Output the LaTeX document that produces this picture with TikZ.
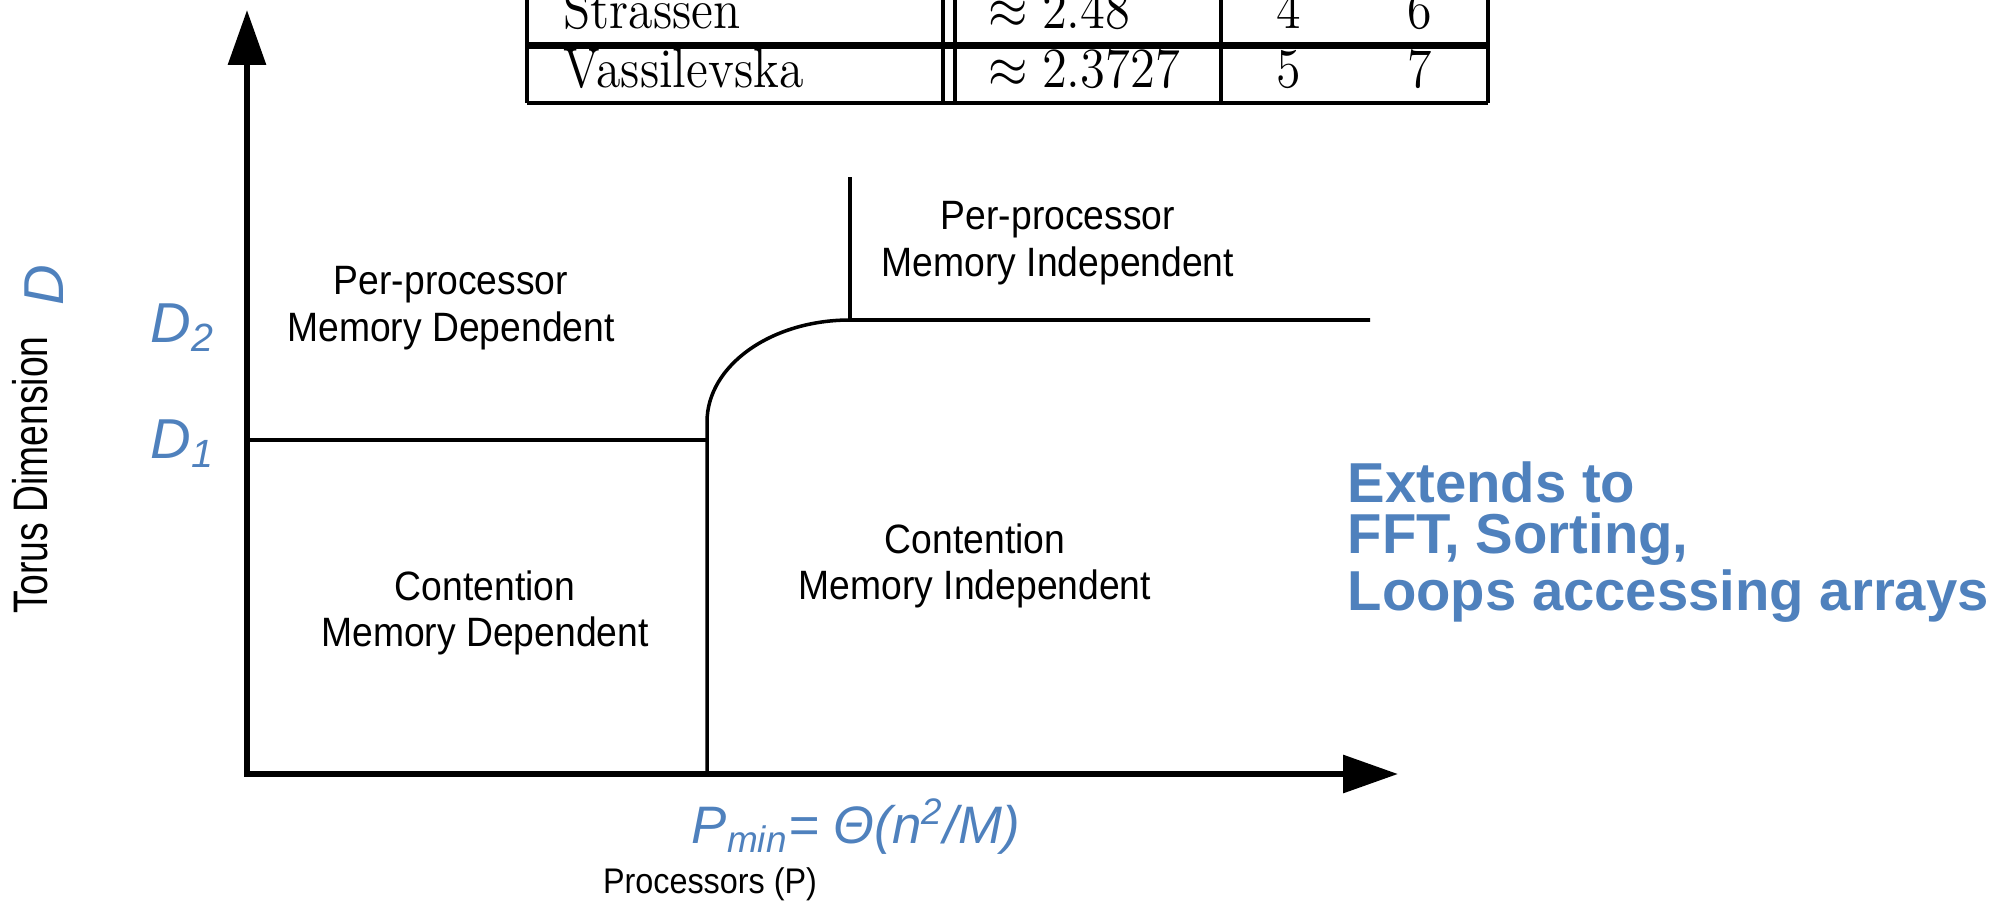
\documentclass[tikz,border=0pt]{standalone}
\usepackage{fontspec}
\setsansfont{Liberation Sans}
\usetikzlibrary{arrows.meta}
\definecolor{slideblue}{RGB}{79,129,189}

\begin{document}
\begin{tikzpicture}[x=0.01cm, y=-0.01cm, line join=miter,
  axis/.style={line width=1.75pt, {Triangle[length=15.6pt,width=10.5pt]}-{Triangle[length=15.6pt,width=10.5pt]}},
  border/.style={line width=1pt},
  rule/.style={line width=0.9pt},
  region/.style={font=\sffamily\fontsize{10.6}{12}\selectfont, align=center, inner sep=0pt},
  zone/.style={region, yscale=1.1},
  hint/.style={text=slideblue, font=\sffamily\itshape\fontsize{16}{19}\selectfont, inner sep=0pt},
  cell/.style={font=\fontsize{14.2}{17}\selectfont, inner sep=0pt, yscale=1.12}]

\useasboundingbox (0,0) rectangle (2007,903);
\clip (0,0) rectangle (2007,903);

% table, upper rows cut off
\foreach \x in {527,943,955,1221,1488}
  \draw[rule] (\x,-60) -- (\x,103);
\draw[rule] (527,43.5) -- (1488,43.5);
\draw[rule] (527,47) -- (1488,47);
\draw[line width=1.2pt] (527,103) -- (1488,103);

\node[cell, anchor=base west] (strassen) at (563,28) {Strassen};
\node[cell, anchor=base west] (strassenexp) at (988,28) {$\approx 2.48$};
\node[cell, anchor=base] (strassena) at (1289,28) {4};
\node[cell, anchor=base] (strassenb) at (1420,28) {6};
\node[cell, anchor=base west] (vassil) at (563,87) {Vassilevska};
\node[cell, anchor=base west] (vassilexp) at (988,87) {$\approx 2.3727$};
\node[cell, anchor=base] (vassila) at (1289,87) {5};
\node[cell, anchor=base] (vassilb) at (1420,87) {7};

% axes
\coordinate (origin) at (247,774);
\coordinate (ytip) at (247,10);
\coordinate (xtip) at (1398,774);
\draw[axis] (ytip) -- (origin) -- (xtip);

% region borders
\coordinate (dleft) at (247,440);
\coordinate (knee) at (707,440);
\coordinate (pmid) at (707,774);
\coordinate (bend) at (707,422);
\coordinate (corner) at (850,320);
\coordinate (dright) at (1370,320);
\coordinate (ptop) at (850,177);
\draw[border] (dleft) -- (knee);
\draw[border] (pmid) -- (bend) arc[start angle=180, end angle=270, x radius=143, y radius=102] -- (dright);
\draw[border] (corner) -- (ptop);

\node[zone] (ppdep) at (451,308) {Per-processor\\Memory Dependent};
\node[zone] (cdep) at (485,613) {Contention\\Memory Dependent};
\node[zone] (ppindep) at (1058,243) {Per-processor\\Memory Independent};
\node[zone] (cindep) at (975,566) {Contention\\Memory Independent};

\node[region, rotate=90, yscale=1.3] (torus) at (30,475) {Torus Dimension};
\node[zone, font=\sffamily\fontsize{9.2}{11}\selectfont, anchor=base] (procs) at (710,893) {Processors (P)};

% blue notes
\node[hint, rotate=90] (dname) at (44,285) {D};
\node[hint, anchor=base west] (dtwo) at (150,342) {D\textsubscript{2}};
\node[hint, anchor=base west] (done) at (150,458) {D\textsubscript{1}};
\node[hint, font=\sffamily\itshape\fontsize{15}{18}\selectfont, anchor=base] (pmin) at (856,843) {P\textsubscript{min}= Θ(n\textsuperscript{2}/M)};
\node[text=slideblue, font=\sffamily\bfseries\fontsize{16}{14.6}\selectfont, align=left, anchor=north west, inner sep=0pt] (extends) at (1347,461) {Extends to\\FFT, Sorting,\\Loops accessing arrays};
\end{tikzpicture}
\end{document}
